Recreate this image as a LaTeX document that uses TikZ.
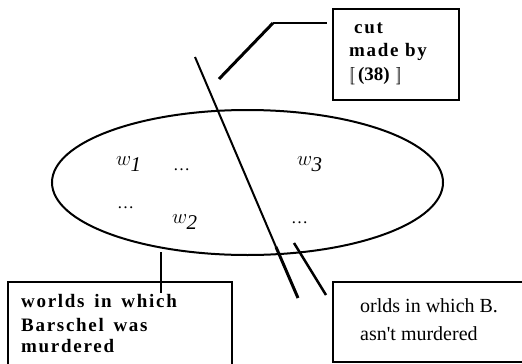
\documentclass[tikz,border=0pt]{standalone}
\usepackage{fontspec}
\usetikzlibrary{shapes.geometric}
\setmainfont{Liberation Serif}
\newfontfamily\spacedfont[LetterSpace=9]{Liberation Serif}
\begin{document}
\begin{tikzpicture}[x=1pt,y=-1pt,
  frame/.style={draw,line width=2pt,rectangle,inner sep=0pt},
  boldtxt/.style={anchor=base west,inner sep=0pt,font=\spacedfont\bfseries\fontsize{19}{22}\selectfont},
  plaintxt/.style={anchor=base west,inner sep=0pt,font=\fontsize{20}{24}\selectfont},
  lbl/.style={anchor=base west,inner sep=0pt,font=\fontsize{21}{24}\selectfont},
  dots/.style={anchor=base west,inner sep=0pt,font=\fontsize{17}{20}\selectfont},
  wire/.style={line width=1.5pt},
  thick wire/.style={line width=3pt}]
\useasboundingbox (0,0) rectangle (522,364);
\clip (0,0) rectangle (522,364);
% set ellipse
\node[draw,line width=2pt,ellipse,minimum width=391pt,minimum height=145pt,inner sep=0pt] (set) at (247.5,182.5) {};
% labels inside
\node[lbl] (w1) at (116,165) {$w_{\textit{1}}$};
\node[dots] (d1) at (173,170) {…};
\node[lbl] (w3) at (297,165) {$w_{\textit{3}}$};
\node[dots] (d2) at (117,208) {…};
\node[lbl] (w2) at (172,223) {$w_{\textit{2}}$};
\node[dots] (d3) at (291,223) {…};
% top box
\node[frame,minimum width=126pt,minimum height=91pt] (cutbox) at (396,54.5) {};
\node[boldtxt] (c1) at (354,33) {cut};
\node[boldtxt] (c2) at (349,56) {made by};
\node[boldtxt] (c3) at (349,80) {\normalfont\fontsize{19}{22}\selectfont$[\![$\,\textbf{(38)}\,\,$]\!]$};
% left box
\node[frame,minimum width=224pt,minimum height=110pt] (lbox) at (120,337) {};
\node[boldtxt] (l1) at (21,307) {worlds\, in\, which};
\node[boldtxt] (l2) at (21,331) {Barschel\, was};
\node[boldtxt] (l3) at (21,352) {murdered};
% right box
\node[frame,minimum width=210pt,minimum height=80pt] (rbox) at (438,322) {};
\node[plaintxt] (r1) at (360,312) {orlds in which B.};
\node[plaintxt] (r2) at (360,340) {asn\textquotesingle t murdered};
% connectors
\coordinate (cuttop) at (195,57);
\coordinate (cutmid) at (276,247);
\coordinate (cutbot) at (298,298);
\draw[line width=2pt] (cuttop) -- (cutmid);
\draw[line width=3pt] (cutmid) -- (cutbot);
\coordinate (s1) at (294,243);
\coordinate (s2) at (326,295);
\draw[line width=2.5pt] (s1) -- (s2);
\coordinate (b1) at (219,79);
\coordinate (b2) at (273,23);
\coordinate (b3) at (327,23);
\draw[thick wire] (b1) -- (b2);
\draw[wire] (b2) -- (b3);
\coordinate (v1) at (161,252);
\coordinate (v2) at (161,293);
\draw[line width=2pt] (v1) -- (v2);
\end{tikzpicture}
\end{document}
